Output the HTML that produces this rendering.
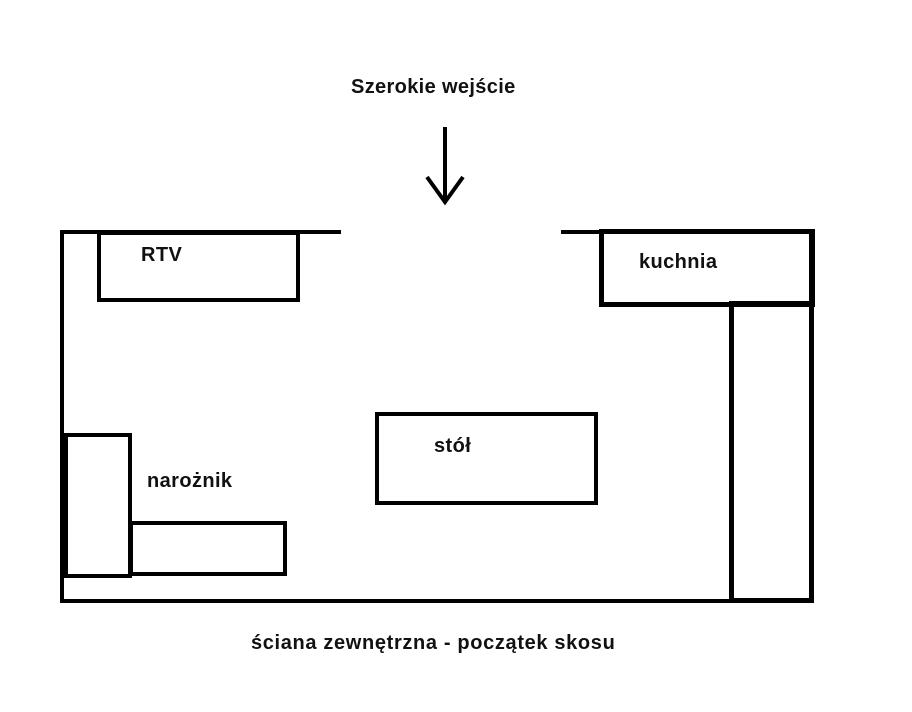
<!DOCTYPE html>
<html><head><meta charset="utf-8"><style>
html,body{margin:0;padding:0;background:#fff;}
body{width:912px;height:712px;position:relative;overflow:hidden;font-family:"Liberation Sans",Arial,sans-serif;}
.b{position:absolute;background:#000;}
.r{position:absolute;border:4px solid #000;box-sizing:border-box;}
.t{position:absolute;font-weight:bold;font-size:20px;color:#111;white-space:nowrap;line-height:1;letter-spacing:0.4px;}
</style></head><body>
<div class="b" style="left:60px;top:230px;width:281px;height:4px"></div>
<div class="b" style="left:561px;top:230px;width:252px;height:4px"></div>
<div class="b" style="left:60px;top:230px;width:4px;height:373px"></div>
<div class="b" style="left:60px;top:599px;width:753px;height:4px"></div>
<div class="b" style="left:809px;top:230px;width:4px;height:373px"></div>
<div class="r" style="left:97px;top:231px;width:203px;height:71px"></div>
<div class="r" style="left:599px;top:229px;width:216px;height:78px;border-width:5px"></div>
<div class="r" style="left:729px;top:301px;width:85px;height:302px;border-width:5px"></div>
<div class="r" style="left:62px;top:433px;width:70px;height:145px;border-left-width:6px"></div>
<div class="r" style="left:129px;top:521px;width:158px;height:55px"></div>
<div class="r" style="left:375px;top:412px;width:223px;height:93px"></div>
<svg style="position:absolute;left:0;top:0" width="912" height="712">
<line x1="445" y1="127" x2="445" y2="203" stroke="#000" stroke-width="4"/>
<polyline points="427,177 445,202 463,177" fill="none" stroke="#000" stroke-width="4"/>
</svg>
<div class="t" style="left:351px;top:77px;letter-spacing:0.35px">Szerokie wejście</div>
<div class="t" style="left:141px;top:245px">RTV</div>
<div class="t" style="left:639px;top:252px">kuchnia</div>
<div class="t" style="left:434px;top:436px">stół</div>
<div class="t" style="left:147px;top:471px">narożnik</div>
<div class="t" style="left:251px;top:633px;letter-spacing:0.65px">ściana zewnętrzna - początek skosu</div>
</body></html>
